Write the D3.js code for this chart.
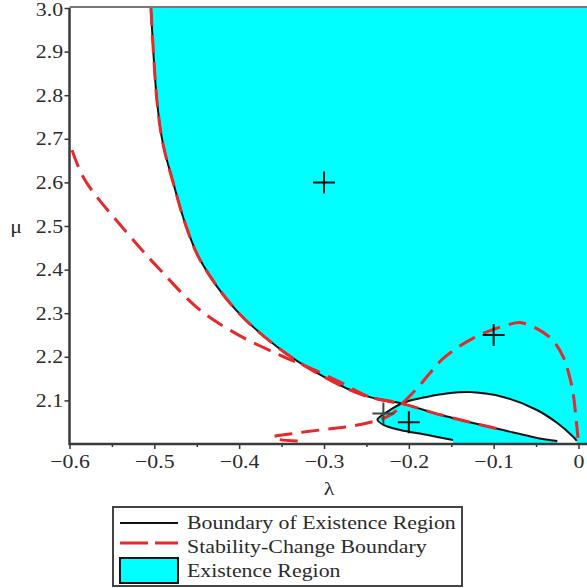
<!DOCTYPE html>
<html>
<head>
<meta charset="utf-8">
<script src="https://cdn.jsdelivr.net/npm/d3@7"></script>
<style>
  html, body { margin: 0; padding: 0; background: #fff; }
  svg { display: block; }
</style>
</head>
<body>
<svg id="chart" width="587" height="588"></svg>
<script>
// values, [lambda, mu]
var boundaryUpper = [
  [-0.504, 3.000], [-0.497, 2.789], [-0.490, 2.690], [-0.477, 2.594],
  [-0.463, 2.502], [-0.446, 2.422], [-0.405, 2.310], [-0.352, 2.218],
  [-0.301, 2.155], [-0.254, 2.112], [-0.207, 2.092], [-0.163, 2.067],
  [-0.128, 2.050], [-0.089, 2.032], [-0.049, 2.014], [-0.025, 2.007]
];
var boundaryLoop = [
  [-0.148, 2.009], [-0.179, 2.021], [-0.210, 2.032], [-0.230, 2.044],
  [-0.237, 2.056], [-0.226, 2.073], [-0.207, 2.094], [-0.179, 2.108],
  [-0.151, 2.117], [-0.128, 2.119], [-0.089, 2.108], [-0.049, 2.078],
  [-0.025, 2.048], [-0.006, 2.016], [-0.002, 2.007]
];
var stabilityUpper = [
  [-0.504, 3.000], [-0.497, 2.789], [-0.490, 2.690], [-0.477, 2.594],
  [-0.463, 2.502], [-0.446, 2.422], [-0.405, 2.310], [-0.352, 2.218],
  [-0.301, 2.155], [-0.254, 2.112], [-0.207, 2.092], [-0.163, 2.067],
  [-0.128, 2.050], [-0.089, 2.032]
];
var stabilityOuter = [
  [-0.597, 2.674], [-0.582, 2.606], [-0.532, 2.484], [-0.493, 2.399],
  [-0.446, 2.307], [-0.399, 2.248], [-0.352, 2.204], [-0.316, 2.174],
  [-0.281, 2.142], [-0.246, 2.108], [-0.207, 2.092]
];
var stabilityLoop = [
  [-0.331, 2.007], [-0.352, 2.010], [-0.360, 2.016], [-0.340, 2.023],
  [-0.305, 2.032], [-0.275, 2.039], [-0.249, 2.048], [-0.226, 2.062],
  [-0.214, 2.078], [-0.207, 2.094], [-0.190, 2.128], [-0.175, 2.163],
  [-0.159, 2.197], [-0.124, 2.243], [-0.084, 2.273], [-0.067, 2.278],
  [-0.034, 2.245], [-0.018, 2.200], [-0.011, 2.158], [-0.006, 2.112],
  [-0.003, 2.060], [-0.0006, 2.014]
];
var crossPoints = [[-0.3, 2.6], [-0.1, 2.25], [-0.2, 2.05], [-0.23, 2.07]];

var lambdaTicks = [-0.6, -0.5, -0.4, -0.3, -0.2, -0.1, 0];
var lambdaMinor = [-0.55, -0.45, -0.35, -0.25, -0.15, -0.05];
var muTicks = [2.1, 2.2, 2.3, 2.4, 2.5, 2.6, 2.7, 2.8, 2.9, 3.0];
var legendLabels = ["Boundary of Existence Region", "Stability-Change Boundary", "Existence Region"];

var W = 587;
var CYAN = '#00ffff';
var RED = '#e42a2a';
var INK = '#111';
var FONT = '"Liberation Serif", "Times New Roman", serif';
var TEXT = '#2b2b2b';
var STRETCH = 'scale(1.15,1)';

var svg = d3.select('#chart')
  .attr('font-family', FONT);
var x = d3.scaleLinear().domain([-0.6, 0]).range([69.5, 578.5]);
var y = d3.scaleLinear().domain([2, 3]).range([444, 8]);

var line = d3.line()
  .x(function (d) { return x(d[0]); })
  .y(function (d) { return y(d[1]); })
  .curve(d3.curveCatmullRom.alpha(0.5));

svg.append('clipPath').attr('id', 'plotclip')
  .append('rect')
  .attr('x', x(-0.6)).attr('y', y(3))
  .attr('width', W - x(-0.6)).attr('height', y(2) - y(3));

var plot = svg.append('g').attr('clip-path', 'url(#plotclip)');

// existence region: above the upper boundary XOR inside the loop
var last1 = boundaryUpper[boundaryUpper.length - 1];
var last2 = boundaryLoop[boundaryLoop.length - 1];
var regionPath =
  line(boundaryUpper) +
  'L' + x(last1[0]) + ',' + y(2) +
  'L' + W + ',' + y(2) +
  'L' + W + ',' + y(3) + 'Z' +
  line(boundaryLoop) +
  'L' + x(last2[0]) + ',' + y(2) +
  'L' + x(boundaryLoop[0][0]) + ',' + y(2) + 'Z';

plot.append('path')
  .attr('d', regionPath)
  .attr('fill', CYAN)
  .attr('fill-rule', 'evenodd');

[boundaryUpper, boundaryLoop].forEach(function (c) {
  plot.append('path').attr('d', line(c))
    .attr('fill', 'none').attr('stroke', INK).attr('stroke-width', 2);
});

[stabilityUpper, stabilityOuter, stabilityLoop].forEach(function (c) {
  plot.append('path').attr('d', line(c))
    .attr('fill', 'none').attr('stroke', RED)
    .attr('stroke-width', 3).attr('stroke-dasharray', '18,9');
});

var arm = 11;
crossPoints.forEach(function (p, i) {
  var cx = x(p[0]), cy = y(p[1]);
  plot.append('path')
    .attr('d', 'M' + (cx - arm) + ',' + cy + 'H' + (cx + arm) + 'M' + cx + ',' + (cy - arm) + 'V' + (cy + arm))
    .attr('stroke', i === 3 ? '#444' : INK).attr('stroke-width', 2);
});

// axes
var xAxis = svg.append('g').attr('transform', 'translate(0,' + y(2) + ')')
  .call(d3.axisBottom(x).tickValues(lambdaTicks).tickSize(5).tickSizeOuter(0)
    .tickFormat(function (d) { return d === 0 ? '0' : d3.format('.1f')(d); }));
xAxis.select('.domain').remove();
xAxis.selectAll('text').attr('y', 24).attr('dy', null);

var xMinor = svg.append('g').attr('transform', 'translate(0,' + y(2) + ')')
  .call(d3.axisBottom(x).tickValues(lambdaMinor).tickSize(3).tickFormat(''));
xMinor.select('.domain').remove();

var yAxis = svg.append('g').attr('transform', 'translate(' + x(-0.6) + ',0)')
  .call(d3.axisLeft(y).tickValues(muTicks).tickSize(5).tickSizeOuter(0)
    .tickFormat(d3.format('.1f')));
yAxis.select('.domain').remove();
yAxis.selectAll('text').attr('x', -5.5)
  .attr('dy', function (d) { return d === 3 ? '0.4em' : '0.32em'; });

[xAxis, yAxis].forEach(function (a) {
  a.attr('font-family', FONT).attr('font-size', 19);
  a.selectAll('text').attr('fill', TEXT).attr('transform', STRETCH);
});

svg.selectAll('.tick line').attr('stroke', '#333').attr('stroke-width', 1.5);

svg.append('path')
  .attr('d', 'M' + x(-0.6) + ',' + y(3) + 'V' + y(2) + 'H' + W)
  .attr('fill', 'none').attr('stroke', '#3a3a3a').attr('stroke-width', 2.5);
svg.append('path')
  .attr('d', 'M' + x(-0.6) + ',' + (y(3) - 1) + 'H' + W)
  .attr('stroke', '#777').attr('stroke-width', 2);

svg.append('text').attr('text-anchor', 'middle').attr('font-size', 19).attr('fill', TEXT)
  .attr('transform', 'translate(329,495) ' + STRETCH).text('λ');
svg.append('text').attr('text-anchor', 'middle').attr('font-size', 19).attr('fill', TEXT)
  .attr('transform', 'translate(16,233) ' + STRETCH).text('μ');

// legend
var lg = svg.append('g');
lg.append('rect').attr('x', 113).attr('y', 507).attr('width', 349).attr('height', 79)
  .attr('fill', '#fff').attr('stroke', '#444').attr('stroke-width', 2);
lg.append('line').attr('x1', 120).attr('x2', 178).attr('y1', 523).attr('y2', 523)
  .attr('stroke', INK).attr('stroke-width', 2);
lg.append('line').attr('x1', 120).attr('x2', 178).attr('y1', 543).attr('y2', 543)
  .attr('stroke', RED).attr('stroke-width', 3).attr('stroke-dasharray', '28,7');
lg.append('rect').attr('x', 120).attr('y', 558).attr('width', 58).attr('height', 25)
  .attr('fill', CYAN).attr('stroke', INK).attr('stroke-width', 2);
legendLabels.forEach(function (t, i) {
  lg.append('text').attr('font-size', 19).attr('fill', TEXT)
    .attr('transform', 'translate(187,' + (529 + i * 24) + ') ' + STRETCH)
    .text(t);
});
</script>
</body>
</html>
